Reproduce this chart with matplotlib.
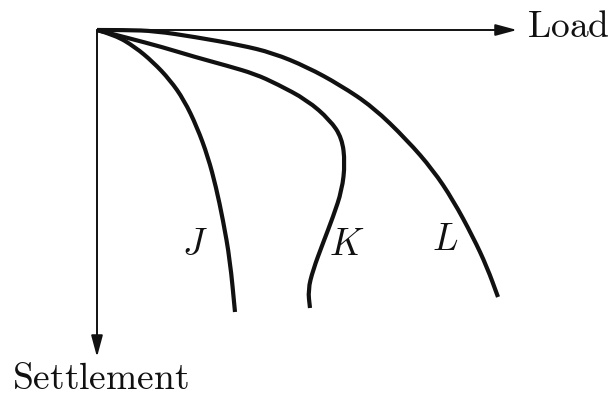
import matplotlib
matplotlib.use("Agg")
import matplotlib.pyplot as plt
from matplotlib.path import Path
from matplotlib.patches import PathPatch

plt.rcParams["mathtext.fontset"] = "cm"

# curve points (load, settlement), origin at the axes corner
j_load = [0, 18, 38, 56, 73, 87, 100, 111, 119, 126, 133, 138]
j_settle = [0, 5, 17, 32, 50, 70, 97, 127, 157, 190, 230, 282]

k_load = [0, 31, 65, 98, 131, 158, 180, 210, 233, 245, 248, 245, 236, 226, 216, 211, 213]
k_settle = [0, 8, 17, 27, 36, 44, 54, 70, 90, 108, 133, 160, 187, 213, 240, 260, 278]

l_load = [0, 30, 58, 98, 143, 176, 210, 243, 276, 310, 336, 356, 376, 390, 401]
l_settle = [0, 0, 1, 7, 15, 23, 37, 55, 77, 110, 140, 170, 207, 237, 267]

labels = ["J", "K", "L"]
label_pos = [(98, 215), (250, 215), (348, 210)]


def smooth_path(xs, ys):
    # quadratic bezier through midpoints, read points act as control points
    pts = list(zip(xs, ys))
    verts = [pts[0]]
    codes = [Path.MOVETO]
    for i in range(1, len(pts) - 1):
        mid = ((pts[i][0] + pts[i + 1][0]) / 2, (pts[i][1] + pts[i + 1][1]) / 2)
        verts += [pts[i], mid]
        codes += [Path.CURVE3, Path.CURVE3]
    verts.append(pts[-1])
    codes.append(Path.LINETO)
    return Path(verts, codes)


fig = plt.figure(figsize=(6.12, 3.96), dpi=100)
ax = fig.add_axes([0, 0, 1, 1])
ax.set_xlim(-97, 515)
ax.set_ylim(366, -30)
ax.axis("off")

for xs, ys in [(j_load, j_settle), (k_load, k_settle), (l_load, l_settle)]:
    ax.add_patch(PathPatch(smooth_path(xs, ys), fill=False, edgecolor="#111111",
                           lw=3.0, capstyle="butt", joinstyle="round"))

arrow = dict(arrowstyle="-|>,head_length=1.3,head_width=0.35", color="#111111", lw=1.4,
             shrinkA=0, shrinkB=0)
ax.annotate("", xy=(420, 0), xytext=(0, 0), arrowprops=arrow)
ax.annotate("", xy=(0, 327), xytext=(0, 0), arrowprops=arrow)

ax.text(430, 7, r"$\mathrm{Load}$", fontsize=27, va="baseline", ha="left", color="#111111")
ax.text(-85, 359, r"$\mathrm{Settlement}$", fontsize=27, va="baseline", ha="left", color="#111111")

for lab, (x, y) in zip(labels, label_pos):
    ax.text(x, y, "$" + lab + "$", fontsize=27, ha="center", va="center", color="#111111")

fig.savefig("out.png", dpi=100)
